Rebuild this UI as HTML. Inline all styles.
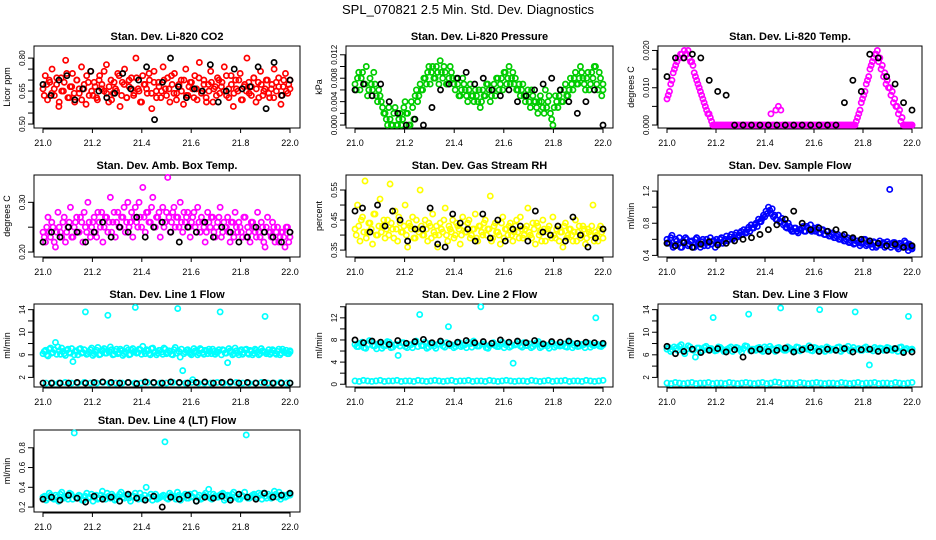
<!DOCTYPE html>
<html><head><meta charset="utf-8"><style>
body{margin:0;background:#fff;}
svg{display:block;font-family:"Liberation Sans",sans-serif;}
</style></head><body>
<svg id="c" width="936" height="540">
<text x="468" y="14" text-anchor="middle" font-size="13">SPL_070821  2.5 Min. Std. Dev. Diagnostics</text>
</svg>
<script>
// ---- data arrays (time axis spans 21.0 to 22.0, values evenly spaced in time) ----
const xTicks=[21.0,21.2,21.4,21.6,21.8,22.0];
const co2Main=[0.66,0.72,0.61,0.69,0.75,0.63,0.68,0.58,0.71,0.65,0.79,0.62,0.67,0.73,0.6,0.7,0.64,0.76,0.66,0.59,0.69,0.74,0.63,0.67,0.61,0.72,0.68,0.65,0.77,0.6,0.7,0.64,0.66,0.73,0.58,0.69,0.75,0.62,0.67,0.71,0.63,0.8,0.66,0.6,0.72,0.68,0.64,0.7,0.57,0.74,0.65,0.69,0.62,0.76,0.66,0.71,0.6,0.68,0.73,0.64,0.67,0.7,0.59,0.75,0.63,0.69,0.66,0.72,0.61,0.78,0.65,0.7,0.62,0.68,0.74,0.6,0.67,0.71,0.64,0.69,0.76,0.63,0.66,0.72,0.58,0.7,0.65,0.73,0.61,0.68,0.8,0.64,0.67,0.71,0.6,0.69,0.74,0.63,0.66,0.7,0.62,0.68,0.75,0.65,0.71,0.59,0.67,0.73,0.64,0.7];
const co2Main2=[0.63,0.68,0.7,0.64,0.66,0.71,0.6,0.65,0.69,0.73,0.62,0.67,0.64,0.7,0.66,0.61,0.68,0.72,0.63,0.65,0.69,0.62,0.7,0.66,0.74,0.64,0.67,0.61,0.69,0.65,0.72,0.63,0.68,0.62,0.7,0.66,0.64,0.71,0.65,0.6,0.68,0.66,0.73,0.64,0.69,0.62,0.67,0.65,0.7,0.63,0.66,0.72,0.64,0.61,0.68,0.65,0.7,0.63,0.67,0.69,0.62,0.66,0.71,0.64,0.68,0.6,0.65,0.69,0.66,0.63,0.7,0.67,0.65,0.72,0.62,0.68,0.64,0.66,0.7,0.61,0.67,0.65,0.69,0.63,0.71,0.66,0.62,0.68,0.65,0.7,0.64,0.66,0.62,0.69,0.67,0.63,0.7,0.65,0.68,0.66];
const co2Co=[0.68,0.63,0.7,0.72,0.61,0.66,0.74,0.65,0.62,0.64,0.73,0.66,0.7,0.76,0.52,0.69,0.8,0.67,0.62,0.66,0.65,0.77,0.6,0.65,0.75,0.66,0.67,0.76,0.57,0.78,0.63,0.7];
const presMain=[0.007,0.008,0.006,0.009,0.007,0.005,0.008,0.006,0.007,0.004,0.005,0.003,0.002,0.0,0.001,0.0,0.003,0.0,0.002,0.001,0.004,0.002,0.0,0.003,0.005,0.004,0.007,0.006,0.008,0.009,0.007,0.01,0.008,0.009,0.011,0.008,0.009,0.007,0.01,0.008,0.006,0.007,0.005,0.008,0.006,0.004,0.007,0.005,0.006,0.004,0.003,0.006,0.005,0.007,0.004,0.006,0.005,0.008,0.007,0.006,0.009,0.008,0.007,0.009,0.008,0.006,0.005,0.007,0.004,0.006,0.003,0.005,0.004,0.002,0.005,0.003,0.006,0.004,0.002,0.0,0.005,0.003,0.006,0.004,0.007,0.005,0.008,0.006,0.009,0.007,0.01,0.008,0.006,0.009,0.007,0.008,0.01,0.006,0.008,0.007];
const presMain2=[0.006,0.009,0.008,0.007,0.01,0.006,0.007,0.009,0.005,0.006,0.004,0.002,0.001,0.003,0.0,0.002,0.0,0.001,0.0,0.003,0.002,0.0,0.004,0.001,0.006,0.005,0.006,0.008,0.007,0.01,0.009,0.008,0.01,0.007,0.009,0.01,0.007,0.008,0.009,0.007,0.008,0.005,0.006,0.007,0.005,0.006,0.005,0.004,0.005,0.006,0.004,0.005,0.007,0.006,0.005,0.007,0.008,0.006,0.008,0.009,0.007,0.01,0.008,0.007,0.006,0.007,0.006,0.005,0.005,0.004,0.006,0.004,0.003,0.004,0.004,0.002,0.003,0.005,0.001,0.003,0.004,0.005,0.004,0.006,0.005,0.006,0.007,0.008,0.007,0.008,0.009,0.007,0.008,0.006,0.009,0.01,0.007,0.009,0.005,0.006];
const presCo=[0.006,0.007,0.005,0.007,0.004,0.002,0.0,0.001,0.0,0.003,0.006,0.007,0.008,0.009,0.007,0.008,0.006,0.005,0.006,0.004,0.005,0.006,0.007,0.008,0.006,0.004,0.002,0.004,0.006,0.0];
const tempMain=[0.007,0.009,0.012,0.015,0.017,0.018,0.019,0.02,0.019,0.018,0.017,0.014,0.012,0.01,0.008,0.006,0.004,0.003,0.001,0,0,0,0,0,0,0,0,0,0,0,0,0,0,0,0,0,0,0,0,0,0,0,0.003,0,0.004,0.005,0.004,0,0,0,0,0,0,0,0,0,0,0,0,0,0,0,0,0,0,0,0,0,0,0,0,0,0,0,0,0,0,0.002,0.004,0.007,0.009,0.012,0.015,0.017,0.019,0.02,0.018,0.016,0.014,0.012,0.01,0.009,0.007,0.005,0.004,0.002,0,0,0,0];
const tempMain2=[0.008,0.011,0.014,0.016,0.018,0.019,0.018,0.019,0.02,0.017,0.016,0.013,0.011,0.009,0.007,0.005,0.003,0.002,0,0,0,0,0,0,0,0,0,0,0,0,0,0,0,0,0,0,0,0,0,0,0,0,0,0,0,0,0,0,0,0,0,0,0,0,0,0,0,0,0,0,0,0,0,0,0,0,0,0,0,0,0,0,0,0,0,0,0.001,0.003,0.006,0.008,0.011,0.013,0.016,0.018,0.019,0.017,0.015,0.013,0.011,0.01,0.008,0.006,0.005,0.003,0.001,0,0,0,0,0];
const tempCo=[0.013,0.018,0.018,0.019,0.018,0.012,0.009,0.008,0,0,0,0,0,0,0,0,0,0,0,0,0,0.006,0.012,0.009,0.019,0.018,0.013,0.011,0.006,0.004];
const ambMain=[0.24,0.22,0.27,0.23,0.25,0.21,0.28,0.24,0.26,0.22,0.25,0.29,0.23,0.26,0.24,0.27,0.22,0.25,0.3,0.23,0.26,0.24,0.28,0.25,0.22,0.27,0.24,0.31,0.26,0.23,0.28,0.25,0.27,0.24,0.3,0.26,0.23,0.29,0.25,0.27,0.33,0.24,0.28,0.26,0.31,0.25,0.27,0.23,0.29,0.26,0.35,0.24,0.28,0.25,0.27,0.3,0.24,0.26,0.28,0.23,0.27,0.25,0.29,0.24,0.26,0.22,0.28,0.25,0.27,0.23,0.26,0.29,0.24,0.25,0.27,0.22,0.26,0.28,0.24,0.25,0.23,0.27,0.25,0.22,0.26,0.24,0.28,0.23,0.25,0.21,0.27,0.24,0.26,0.22,0.25,0.23,0.24,0.21,0.25,0.23];
const ambMain2=[0.23,0.25,0.24,0.26,0.22,0.24,0.25,0.23,0.27,0.24,0.26,0.23,0.25,0.27,0.24,0.26,0.28,0.24,0.26,0.25,0.27,0.23,0.26,0.28,0.25,0.27,0.26,0.24,0.28,0.26,0.25,0.27,0.29,0.26,0.25,0.28,0.27,0.26,0.3,0.25,0.27,0.28,0.26,0.29,0.25,0.27,0.28,0.26,0.25,0.28,0.27,0.26,0.29,0.27,0.25,0.26,0.28,0.27,0.25,0.26,0.28,0.24,0.26,0.27,0.25,0.24,0.26,0.27,0.24,0.25,0.27,0.23,0.26,0.25,0.24,0.26,0.23,0.25,0.26,0.24,0.27,0.23,0.24,0.26,0.25,0.23,0.24,0.26,0.22,0.25,0.24,0.23,0.25,0.24,0.22,0.24,0.23,0.25,0.22,0.24];
const ambCo=[0.22,0.24,0.23,0.25,0.24,0.22,0.24,0.26,0.23,0.25,0.24,0.27,0.23,0.25,0.26,0.24,0.22,0.25,0.24,0.26,0.23,0.25,0.24,0.22,0.23,0.25,0.24,0.23,0.22,0.24];
const rhMain=[0.42,0.5,0.38,0.46,0.58,0.41,0.44,0.37,0.47,0.4,0.52,0.43,0.39,0.45,0.57,0.42,0.48,0.38,0.44,0.41,0.5,0.36,0.43,0.46,0.39,0.42,0.55,0.4,0.45,0.38,0.43,0.47,0.4,0.36,0.44,0.41,0.49,0.38,0.42,0.45,0.4,0.43,0.37,0.46,0.41,0.44,0.39,0.42,0.47,0.38,0.43,0.4,0.45,0.42,0.53,0.39,0.44,0.41,0.37,0.46,0.42,0.4,0.44,0.38,0.43,0.41,0.46,0.39,0.42,0.49,0.4,0.44,0.37,0.43,0.41,0.45,0.38,0.42,0.4,0.46,0.39,0.43,0.41,0.36,0.44,0.4,0.42,0.38,0.45,0.41,0.39,0.43,0.37,0.42,0.4,0.5,0.41,0.38,0.43,0.42];
const rhMain2=[0.4,0.43,0.45,0.41,0.39,0.44,0.42,0.47,0.4,0.43,0.41,0.45,0.42,0.4,0.44,0.39,0.42,0.46,0.41,0.43,0.4,0.44,0.42,0.39,0.45,0.41,0.43,0.4,0.42,0.44,0.39,0.41,0.43,0.4,0.42,0.45,0.4,0.43,0.41,0.39,0.44,0.42,0.4,0.43,0.41,0.45,0.4,0.42,0.39,0.43,0.41,0.44,0.4,0.42,0.38,0.43,0.41,0.4,0.44,0.39,0.42,0.43,0.4,0.41,0.45,0.39,0.42,0.4,0.43,0.41,0.39,0.42,0.44,0.4,0.38,0.42,0.41,0.43,0.39,0.4,0.42,0.38,0.41,0.43,0.39,0.42,0.4,0.41,0.38,0.43,0.4,0.42,0.39,0.41,0.43,0.38,0.4,0.42,0.41,0.39];
const rhCo=[0.48,0.49,0.41,0.5,0.43,0.48,0.45,0.38,0.42,0.42,0.49,0.37,0.36,0.47,0.44,0.42,0.38,0.47,0.39,0.45,0.38,0.42,0.43,0.38,0.48,0.41,0.4,0.43,0.38,0.46,0.4,0.36,0.39,0.42];
const flowMain=[0.6,0.55,0.65,0.52,0.58,0.62,0.5,0.56,0.6,0.54,0.58,0.5,0.62,0.55,0.57,0.52,0.6,0.56,0.54,0.58,0.6,0.55,0.62,0.58,0.64,0.6,0.66,0.62,0.68,0.65,0.7,0.72,0.68,0.75,0.78,0.74,0.8,0.85,0.82,0.9,0.95,1.0,0.92,0.88,0.85,0.9,0.82,0.78,0.75,0.8,0.72,0.7,0.74,0.68,0.72,0.76,0.7,0.74,0.78,0.72,0.7,0.75,0.68,0.72,0.66,0.7,0.64,0.68,0.62,0.66,0.6,0.64,0.58,0.62,0.56,0.6,0.55,0.58,0.52,0.56,0.6,0.54,0.58,0.5,0.56,0.52,0.58,0.55,0.5,0.57,1.22,0.53,0.56,0.5,0.55,0.52,0.58,0.5,0.54,0.48];
const flowMain2=[0.56,0.62,0.5,0.6,0.54,0.5,0.58,0.62,0.52,0.57,0.5,0.6,0.54,0.5,0.6,0.56,0.52,0.62,0.58,0.5,0.56,0.6,0.55,0.6,0.58,0.63,0.6,0.65,0.63,0.68,0.66,0.68,0.72,0.7,0.74,0.78,0.76,0.82,0.86,0.88,0.92,0.96,0.98,0.9,0.84,0.82,0.86,0.8,0.74,0.76,0.7,0.74,0.7,0.72,0.74,0.7,0.76,0.72,0.7,0.74,0.72,0.68,0.72,0.66,0.7,0.64,0.66,0.62,0.64,0.6,0.62,0.58,0.6,0.56,0.58,0.54,0.58,0.56,0.55,0.6,0.52,0.56,0.54,0.57,0.5,0.55,0.53,0.56,0.52,0.54,0.5,0.56,0.52,0.48,0.54,0.5,0.56,0.46,0.52,0.5];
const flowCo=[0.55,0.52,0.56,0.5,0.54,0.57,0.53,0.55,0.58,0.6,0.62,0.66,0.72,0.78,0.85,0.95,0.8,0.72,0.74,0.7,0.72,0.66,0.62,0.6,0.58,0.55,0.52,0.54,0.5,0.52];
const l1Main=[6.2,6.8,5.8,7.2,6.4,8.2,7.4,6.1,6.6,5.9,7.0,6.3,4.8,6.7,6.0,7.1,6.4,13.6,6.2,6.9,5.9,6.5,7.3,6.1,6.8,6.3,13.0,7.4,6.0,6.6,6.2,7.0,5.9,6.5,6.8,6.1,7.1,14.4,6.4,6.9,7.5,6.2,6.7,6.0,7.2,6.5,6.3,6.8,6.1,7.0,6.4,6.6,6.0,7.3,14.2,5.6,3.2,6.5,6.9,6.2,1.6,6.7,6.0,7.1,6.4,6.8,6.2,6.6,7.0,6.1,6.5,13.6,6.9,6.3,4.6,6.7,6.0,7.2,6.4,6.6,6.1,6.9,6.3,6.8,6.0,7.0,6.5,6.2,6.7,12.8,6.4,6.1,6.9,6.3,6.6,6.0,7.0,6.4,6.2,6.7];
const l1Main2=[6.6,6.0,7.0,6.3,6.9,6.1,6.7,7.2,6.2,6.8,6.4,7.1,6.0,6.6,7.0,6.3,6.9,6.1,6.5,7.2,6.2,6.8,6.0,6.7,7.1,6.3,6.5,6.9,6.1,7.0,6.4,6.7,6.2,7.2,6.0,6.8,6.5,6.3,7.0,6.1,6.6,6.9,6.2,7.1,6.4,6.0,6.8,6.5,7.2,6.2,6.7,6.1,6.9,6.3,6.6,7.0,6.2,6.8,6.4,6.0,7.1,6.5,6.3,6.9,6.1,6.7,7.0,6.2,6.6,6.4,6.9,6.0,6.8,6.3,7.1,6.5,6.2,6.7,6.0,6.9,6.4,7.0,6.1,6.6,6.3,6.8,6.0,7.1,6.5,6.2,6.9,6.4,6.7,6.1,7.0,6.3,6.6,6.8,6.2,6.5];
const l1Low=[1,1,1,1.1,1,1,1.1,1,1,1.1,1,1,1,1.1,1,1,1.1,1,1,1,1.1,1,1,1.1,1,1,1,1.1,1,1,1.1,1,1,1,1.1,1,1,1.1,1,1];
const l1Co=[1,1,1,1,1.1,1,1.1,1.2,1.1,1,1.1,0.9,1.2,1.1,1,1.2,1.1,1,1.1,1.2,1,1.1,1.2,1,1.1,1,1.1,1,1,1];
const l2Main=[7.2,6.8,7.6,6.5,7.9,7.0,6.4,7.3,6.9,7.7,6.6,7.1,5.2,7.5,6.8,7.2,6.6,7.8,12.6,7.0,6.5,7.4,6.9,7.2,7.6,6.7,10.4,7.1,6.8,7.5,7.0,6.6,7.3,7.8,6.9,14.0,7.2,6.5,7.4,7.0,6.8,7.6,7.1,6.7,3.8,7.3,6.9,7.5,7.0,6.6,7.2,7.7,6.8,7.1,6.5,7.4,7.0,6.9,7.3,6.7,7.5,7.0,6.8,7.2,6.6,7.4,7.1,12.0,6.9,7.3];
const l2Main2=[6.8,7.4,6.6,7.1,7.7,6.9,7.3,6.5,7.0,7.6,6.7,7.2,6.9,7.5,6.6,7.1,7.4,6.8,7.0,7.6,6.7,7.2,6.5,7.3,6.9,7.5,7.0,6.6,7.4,6.8,7.1,7.6,6.7,7.2,6.9,7.3,6.6,7.0,7.5,6.8,7.2,6.6,7.4,6.9,7.1,7.6,6.7,7.0,7.3,6.8,7.5,6.6,7.1,6.9,7.4,6.7,7.2,7.0,6.8,7.5,6.6,7.3,6.9,7.1,7.4,6.7,7.0,7.2,6.8,7.1];
const l2Low=[0.6,0.5,0.7,0.6,0.5,0.6,0.7,0.5,0.6,0.6,0.7,0.5,0.6,0.6,0.5,0.7,0.6,0.5,0.6,0.7,0.6,0.5,0.6,0.7,0.5,0.6,0.6,0.7,0.5,0.6,0.6,0.5,0.7,0.6,0.5,0.6,0.7,0.6,0.5,0.6,0.6,0.5,0.7,0.6,0.5,0.6,0.7,0.5,0.6,0.6,0.7,0.5,0.6,0.6,0.5,0.7,0.6,0.5,0.6,0.7];
const l2Co=[8.0,7.5,7.8,7.6,7.2,7.9,7.4,7.7,8.1,7.5,7.8,7.3,7.6,7.9,7.5,7.7,7.4,8.0,7.6,7.8,7.5,7.9,7.3,7.7,7.6,7.8,7.4,7.6,7.5,7.4];
const l3Main=[7.0,6.6,7.4,6.8,7.8,6.2,7.6,6.9,5.6,7.2,6.7,7.5,7.1,12.6,6.8,7.3,6.6,7.0,7.4,6.9,7.2,6.5,7.6,13.2,7.0,6.8,7.3,6.6,7.1,7.5,6.9,7.2,14.3,6.8,7.4,7.0,6.6,7.3,6.9,7.1,7.6,6.7,7.2,14.0,6.9,7.4,6.8,7.0,7.3,6.6,7.2,7.5,6.9,13.6,7.1,6.8,7.4,4.2,6.7,7.0,7.2,6.8,7.3,6.9,7.1,6.6,7.4,6.9,12.8,7.0];
const l3Main2=[7.3,6.9,7.1,7.5,6.7,7.0,7.4,6.8,7.2,6.6,7.3,6.9,7.1,6.7,7.4,7.0,6.8,7.2,6.6,7.3,6.9,7.1,7.5,6.7,7.0,7.2,6.8,7.4,6.9,7.1,6.6,7.3,7.0,6.8,7.2,6.9,7.4,6.7,7.1,7.0,6.8,7.3,6.9,7.1,6.6,7.2,7.0,6.8,7.4,6.9,7.1,6.7,7.3,7.0,6.8,7.2,6.9,7.0,7.3,6.7,7.1,6.9,7.2,6.8,7.0,7.3,6.7,7.1,6.9,7.0];
const l3Low=[1.0,0.9,1.1,1.0,0.9,1.0,1.1,0.9,1.0,1.0,1.1,0.9,1.0,1.0,0.9,1.1,1.0,0.9,1.0,1.1,1.0,0.9,1.0,1.1,0.9,1.0,1.2,1.1,0.9,1.0,1.0,0.9,1.1,1.0,0.9,1.0,1.1,1.0,0.9,1.0,1.0,0.9,1.1,1.0,0.9,1.0,1.1,0.9,1.0,1.0,1.1,0.9,1.0,1.0,0.9,1.1,1.0,0.9,1.0,1.1];
const l3Co=[7.5,6.2,6.6,7.0,6.4,6.8,7.1,6.5,6.9,5.6,6.7,7.0,6.6,6.8,7.2,6.5,6.9,7.3,6.6,7.0,6.8,7.1,6.5,6.9,7.0,6.6,6.8,7.1,6.4,6.5];
const l4Main=[0.3,0.27,0.34,0.29,0.32,0.26,0.35,0.3,0.28,0.33,0.95,0.29,0.31,0.27,0.34,0.3,0.26,0.32,0.29,0.36,0.28,0.31,0.33,0.27,0.3,0.35,0.29,0.32,0.26,0.31,0.3,0.34,0.28,0.4,0.3,0.27,0.33,0.29,0.31,0.86,0.28,0.32,0.3,0.35,0.27,0.31,0.29,0.33,0.3,0.26,0.32,0.29,0.34,0.38,0.28,0.31,0.3,0.33,0.27,0.32,0.29,0.35,0.3,0.28,0.31,0.93,0.29,0.32,0.3,0.34,0.28,0.31,0.33,0.29,0.36,0.3,0.28,0.32,0.31,0.34];
const l4Main2=[0.31,0.29,0.32,0.28,0.3,0.33,0.29,0.31,0.34,0.28,0.3,0.32,0.27,0.31,0.29,0.33,0.3,0.28,0.32,0.3,0.34,0.29,0.31,0.28,0.33,0.3,0.32,0.29,0.31,0.34,0.28,0.3,0.32,0.29,0.33,0.31,0.28,0.3,0.32,0.29,0.34,0.31,0.28,0.32,0.3,0.33,0.29,0.31,0.34,0.3,0.28,0.32,0.31,0.29,0.33,0.3,0.32,0.34,0.29,0.31,0.33,0.3,0.28,0.32,0.35,0.29,0.31,0.33,0.3,0.32,0.34,0.29,0.31,0.3,0.33,0.35,0.31,0.3,0.33,0.32];
const l4Co=[0.28,0.3,0.27,0.32,0.29,0.25,0.31,0.28,0.3,0.26,0.33,0.29,0.27,0.31,0.2,0.3,0.28,0.32,0.26,0.3,0.29,0.31,0.27,0.33,0.3,0.28,0.34,0.3,0.32,0.34];

const NS="http://www.w3.org/2000/svg";
const svg=document.getElementById('c');
const colL=[34,346,658], colR=[300,613,922];
const rowT=[46,175,304,430], rowB=[128,257,387,512];
function mk(tag,attrs,parent){const e=document.createElementNS(NS,tag);for(const k in attrs)e.setAttribute(k,attrs[k]);(parent||svg).appendChild(e);return e;}
function panel(o){
  const L=colL[o.c],R=colR[o.c],T=rowT[o.r],B=rowB[o.r];
  const g=mk('g',{});
  
  
  const x0=L+9,x1=R-10;
  const xs=v=>x0+(v-21)*(x1-x0);
  const ys=v=>B-(v-o.d[0])/(o.d[1]-o.d[0])*(B-T);
  const fr=mk('rect',{x:L,y:T,width:R-L,height:B-T,fill:'none',stroke:'#000','stroke-width':1},g);
  
  
  const t=mk('text',{x:(L+R)/2,y:T-6,'text-anchor':'middle','font-size':11,'font-weight':'bold'},g);
  t.textContent=o.title;
  
  
  const yl=mk('text',{transform:`translate(${L-24},${(T+B)/2}) rotate(-90)`,'text-anchor':'middle','font-size':9},g);
  yl.textContent=o.yl;
  
  
  mk('line',{x1:x0,x2:x1,y1:B+1,y2:B+1,stroke:'#000'},g);
  xTicks.forEach(v=>{
    mk('line',{x1:xs(v),x2:xs(v),y1:B,y2:B+5,stroke:'#000'},g);
    const tx=mk('text',{x:xs(v),y:B+18,'text-anchor':'middle','font-size':9},g);
    tx.textContent=v.toFixed(1);
    
    
  });
  const yt=o.ticks;
  mk('line',{x1:L-1,x2:L-1,y1:ys(yt[0]),y2:ys(yt[yt.length-1]),stroke:'#000'},g);
  yt.forEach((v,i)=>{
    mk('line',{x1:L-6,x2:L,y1:ys(v),y2:ys(v),stroke:'#000'},g);
    if(o.lab[i]){
      const ty=mk('text',{transform:`translate(${L-9},${ys(v)}) rotate(-90)`,'text-anchor':'middle','font-size':8},g);
      ty.textContent=o.lab[i];
      
      
    }
  });
  o.series.forEach((s,si)=>{
    const n=s.v.length;
    const off=(s.off||0);
    s.v.forEach((v,i)=>{
      const t=Math.min(22,21+(i+off)/(n-1));
      const p=mk('circle',{cx:xs(t),cy:ys(v),r:2.6,fill:'none',stroke:s.col,'stroke-width':1.7},g);
      
      
    });
  });
}
panel({name:'co2-panel',c:0,r:0,title:'Stan. Dev. Li-820 CO2',yl:'Licor ppm',d:[0.482,0.855],ticks:[0.5,0.55,0.6,0.65,0.7,0.75,0.8],lab:['0.50','','','0.65','','','0.80'],series:[{v:co2Main,col:'#f00'},{v:co2Main2,col:'#f00',off:0.5},{v:co2Co,col:'#000'}]});
panel({name:'pressure-panel',c:1,r:0,title:'Stan. Dev. Li-820 Pressure',yl:'kPa',d:[-0.0005,0.0135],ticks:[0,0.002,0.004,0.006,0.008,0.01,0.012],lab:['0.000','','0.004','','0.008','','0.012'],series:[{v:presMain,col:'#0c0'},{v:presMain2,col:'#0c0',off:0.5},{v:presCo,col:'#000'}]});
panel({name:'temp-panel',c:2,r:0,title:'Stan. Dev. Li-820 Temp.',yl:'degrees C',d:[-0.0008,0.0212],ticks:[0,0.005,0.01,0.015,0.02],lab:['0.000','','0.010','','0.020'],series:[{v:tempMain,col:'#f0f'},{v:tempMain2,col:'#f0f',off:0.5},{v:tempCo,col:'#000'}]});
panel({name:'amb-box-temp-panel',c:0,r:1,title:'Stan. Dev. Amb. Box Temp.',yl:'degrees C',d:[0.19,0.355],ticks:[0.2,0.25,0.3],lab:['0.20','','0.30'],series:[{v:ambMain,col:'#f0f'},{v:ambMain2,col:'#f0f',off:0.5},{v:ambCo,col:'#000'}]});
panel({name:'rh-panel',c:1,r:1,title:'Stan. Dev. Gas Stream RH',yl:'percent',d:[0.327,0.6],ticks:[0.35,0.4,0.45,0.5,0.55],lab:['0.35','','0.45','','0.55'],series:[{v:rhMain,col:'#ff0'},{v:rhMain2,col:'#ff0',off:0.5},{v:rhCo,col:'#000'}]});
panel({name:'sample-flow-panel',c:2,r:1,title:'Stan. Dev. Sample Flow',yl:'ml/min',d:[0.38,1.4],ticks:[0.4,0.6,0.8,1.0,1.2],lab:['0.4','','0.8','','1.2'],series:[{v:flowMain,col:'#00f'},{v:flowMain2,col:'#00f',off:0.5},{v:flowCo,col:'#000'}]});
panel({name:'line1-flow-panel',c:0,r:2,title:'Stan. Dev. Line 1 Flow',yl:'ml/min',d:[0.3,15],ticks:[2,4,6,8,10,12,14],lab:['2','','6','','10','','14'],series:[{v:l1Main,col:'#0ff'},{v:l1Main2,col:'#0ff',off:0.5},{v:l1Low,col:'#0ff',off:0.5},{v:l1Co,col:'#000'}]});
panel({name:'line2-flow-panel',c:1,r:2,title:'Stan. Dev. Line 2 Flow',yl:'ml/min',d:[-0.5,14.5],ticks:[0,2,4,6,8,10,12,14],lab:['0','','4','','8','','12',''],series:[{v:l2Main,col:'#0ff'},{v:l2Main2,col:'#0ff',off:0.5},{v:l2Low,col:'#0ff'},{v:l2Co,col:'#000'}]});
panel({name:'line3-flow-panel',c:2,r:2,title:'Stan. Dev. Line 3 Flow',yl:'ml/min',d:[0.3,15],ticks:[2,4,6,8,10,12,14],lab:['2','','6','','10','','14'],series:[{v:l3Main,col:'#0ff'},{v:l3Main2,col:'#0ff',off:0.5},{v:l3Low,col:'#0ff'},{v:l3Co,col:'#000'}]});
panel({name:'line4-flow-panel',c:0,r:3,title:'Stan. Dev. Line 4 (LT) Flow',yl:'ml/min',d:[0.15,0.98],ticks:[0.2,0.4,0.6,0.8],lab:['0.2','0.4','0.6','0.8'],series:[{v:l4Main,col:'#0ff'},{v:l4Main2,col:'#0ff',off:0.5},{v:l4Co,col:'#000'}]});
</script>
</body></html>
